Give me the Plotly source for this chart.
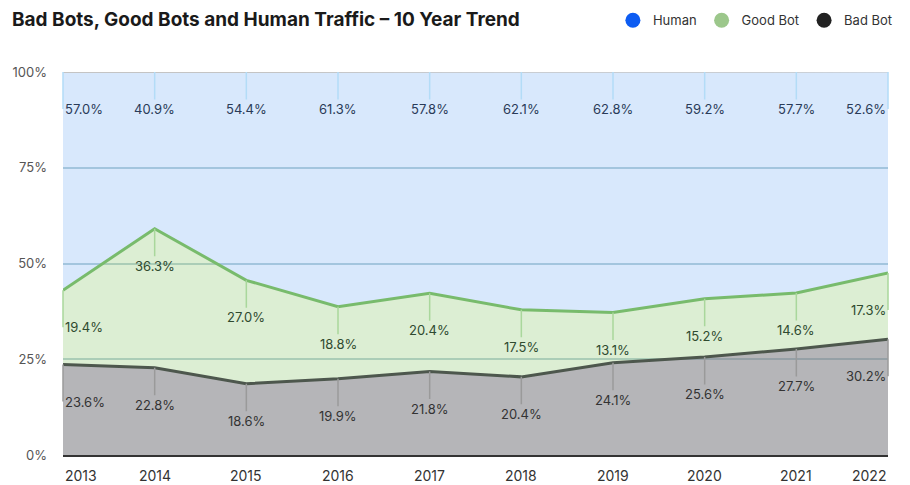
import plotly.graph_objects as go

years = [2013, 2014, 2015, 2016, 2017, 2018, 2019, 2020, 2021, 2022]
human = [57.0, 40.9, 54.4, 61.3, 57.8, 62.1, 62.8, 59.2, 57.7, 52.6]
good_bot = [19.4, 36.3, 27.0, 18.8, 20.4, 17.5, 13.1, 15.2, 14.6, 17.3]
bad_bot = [23.6, 22.8, 18.6, 19.9, 21.8, 20.4, 24.1, 25.6, 27.7, 30.2]
y_ticks = [0, 25, 50, 75, 100]
y_tick_text = ["0%", "25%", "50%", "75%", "100%"]

FONT = "Inter, Roboto, sans-serif"

fig = go.Figure()
fig.add_trace(go.Scatter(x=years, y=bad_bot, stackgroup="s", mode="lines",
                         line=dict(color="#4d574d", width=3),
                         fillcolor="rgba(120,120,125,0.55)", showlegend=False, hoverinfo="skip"))
fig.add_trace(go.Scatter(x=years, y=good_bot, stackgroup="s", mode="lines",
                         line=dict(color="#78bb6c", width=3),
                         fillcolor="rgba(140,200,110,0.30)", showlegend=False, hoverinfo="skip"))
fig.add_trace(go.Scatter(x=years, y=human, stackgroup="s", mode="lines",
                         line=dict(color="#c4c4c4", width=2),
                         fillcolor="rgba(100,165,245,0.25)", showlegend=False, hoverinfo="skip"))

# legend-only traces
for name, col in [("Human", "#0d5cf2"), ("Good Bot", "#9cc78b"), ("Bad Bot", "#222222")]:
    fig.add_trace(go.Scatter(x=[None], y=[None], mode="markers", name=name,
                             marker=dict(color=col, size=15, symbol="circle")))

annotations = []
series = [
    (bad_bot, [b for b in bad_bot], "#9a9a9a", "#333333"),
    (good_bot, [b + g for b, g in zip(bad_bot, good_bot)], "#a9d79c", "#2f4a2f"),
    (human, [min(100.0, b + g + h) for b, g, h in zip(bad_bot, good_bot, human)], "#b3dcf7", "#2a3b58"),
]
for vals, tops, lc, tc in series:
    for i, (yr, v, t) in enumerate(zip(years, vals, tops)):
        xa = "left" if i == 0 else ("right" if i == len(years) - 1 else "center")
        annotations.append(dict(
            x=yr, y=t, xref="x", yref="y", text=f"{v:.1f}%",
            showarrow=True, arrowhead=0, arrowwidth=1.5, arrowcolor=lc,
            ax=0, ay=37, standoff=0, xanchor=xa,
            font=dict(family=FONT, size=13, color=tc)))

# x tick labels (edge labels aligned inward like the reference)
for i, yr in enumerate(years):
    xa = "left" if i == 0 else ("right" if i == len(years) - 1 else "center")
    annotations.append(dict(x=yr, y=0, xref="x", yref="paper", text=str(yr),
                            showarrow=False, xanchor=xa, yanchor="top", yshift=-10,
                            font=dict(family=FONT, size=14, color="#333")))

# title as an annotation
annotations.append(dict(text="<b>Bad Bots, Good Bots and Human Traffic – 10 Year Trend</b>",
                        xref="paper", yref="paper", x=-53 / 825, y=(447 - 11) / 383,
                        xanchor="left", yanchor="middle", showarrow=False,
                        font=dict(family=FONT, size=19, color="#1a1a1a")))

# page has an 8px body margin, so the figure is sized/offset to compensate
fig.update_layout(
    width=902, height=477,
    margin=dict(l=55, r=22, t=64, b=30, autoexpand=False),
    paper_bgcolor="white", plot_bgcolor="white",
    legend=dict(orientation="h", x=1.012, xanchor="right", y=1.135, yanchor="middle",
                traceorder="normal",
                font=dict(family=FONT, size=13, color="#333"),
                bgcolor="rgba(0,0,0,0)"),
    xaxis=dict(range=[2013, 2022], tickvals=years, showticklabels=False,
               showgrid=False, zeroline=False, showline=True, linecolor="#333", linewidth=2,
               ticks=""),
    yaxis=dict(range=[0, 100], tickvals=y_ticks, ticktext=y_tick_text,
               showgrid=True, gridcolor="rgb(185,208,215)", gridwidth=2, zeroline=False,
               tickfont=dict(family=FONT, size=13, color="#555"), ticks="", ticklabelstandoff=15),
    annotations=annotations,
    showlegend=True,
)

fig.write_html("out.html")
